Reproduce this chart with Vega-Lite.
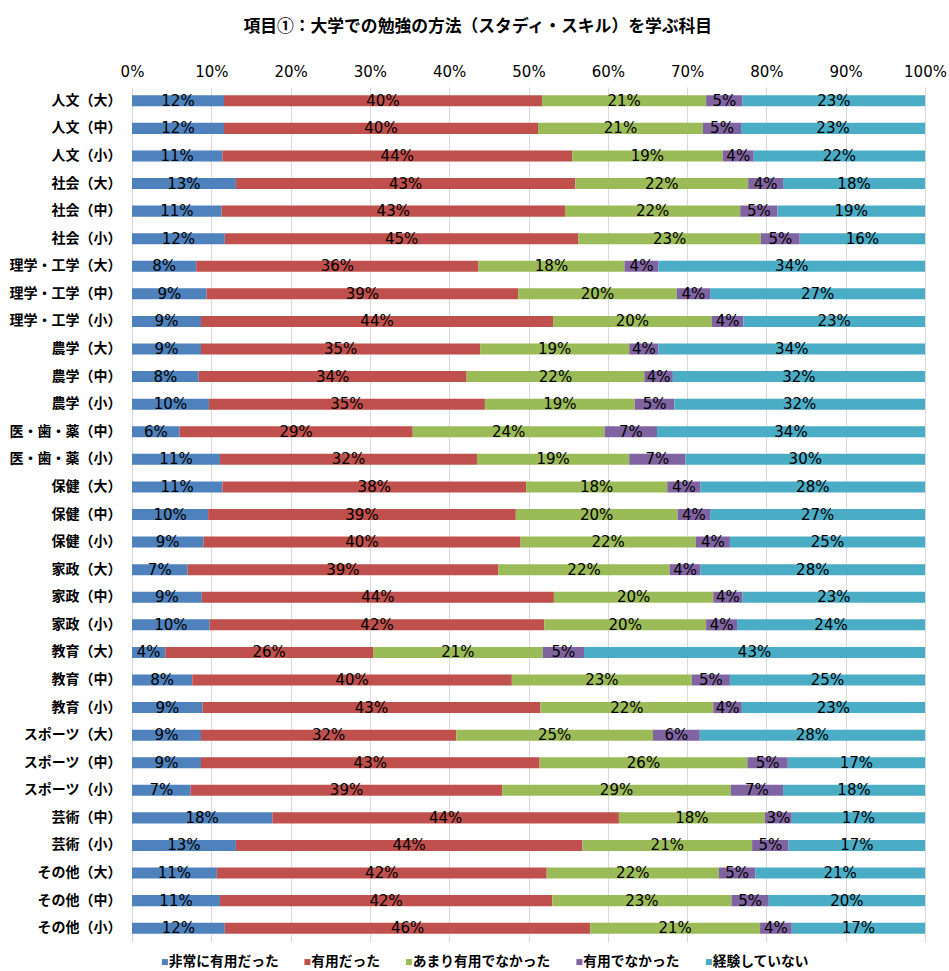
{
  "$schema": "https://vega.github.io/schema/vega-lite/v6.json",
  "autosize": {"type": "none"},
  "padding": {"left": 132, "top": 87, "right": 24, "bottom": 29},
  "width": 793,
  "height": 855,
  "background": "white",
  "title": {
    "text": "項目①：大学での勉強の方法（スタディ・スキル）を学ぶ科目",
    "font": "Noto Sans CJK JP",
    "fontSize": 16.8,
    "fontWeight": "bold",
    "color": "black",
    "anchor": "middle",
    "frame": "bounds",
    "offset": 28
  },
  "config": {"view": {"stroke": null}},
  "data": {
    "values": [
      {"c": "人文（大）", "s": "非常に有用だった", "k": 1, "v": 0.116},
      {"c": "人文（大）", "s": "有用だった", "k": 2, "v": 0.401},
      {"c": "人文（大）", "s": "あまり有用でなかった", "k": 3, "v": 0.207},
      {"c": "人文（大）", "s": "有用でなかった", "k": 4, "v": 0.046},
      {"c": "人文（大）", "s": "経験していない", "k": 5, "v": 0.230},
      {"c": "人文（中）", "s": "非常に有用だった", "k": 1, "v": 0.116},
      {"c": "人文（中）", "s": "有用だった", "k": 2, "v": 0.396},
      {"c": "人文（中）", "s": "あまり有用でなかった", "k": 3, "v": 0.208},
      {"c": "人文（中）", "s": "有用でなかった", "k": 4, "v": 0.048},
      {"c": "人文（中）", "s": "経験していない", "k": 5, "v": 0.232},
      {"c": "人文（小）", "s": "非常に有用だった", "k": 1, "v": 0.114},
      {"c": "人文（小）", "s": "有用だった", "k": 2, "v": 0.441},
      {"c": "人文（小）", "s": "あまり有用でなかった", "k": 3, "v": 0.190},
      {"c": "人文（小）", "s": "有用でなかった", "k": 4, "v": 0.039},
      {"c": "人文（小）", "s": "経験していない", "k": 5, "v": 0.216},
      {"c": "社会（大）", "s": "非常に有用だった", "k": 1, "v": 0.131},
      {"c": "社会（大）", "s": "有用だった", "k": 2, "v": 0.428},
      {"c": "社会（大）", "s": "あまり有用でなかった", "k": 3, "v": 0.218},
      {"c": "社会（大）", "s": "有用でなかった", "k": 4, "v": 0.044},
      {"c": "社会（大）", "s": "経験していない", "k": 5, "v": 0.179},
      {"c": "社会（中）", "s": "非常に有用だった", "k": 1, "v": 0.113},
      {"c": "社会（中）", "s": "有用だった", "k": 2, "v": 0.433},
      {"c": "社会（中）", "s": "あまり有用でなかった", "k": 3, "v": 0.221},
      {"c": "社会（中）", "s": "有用でなかった", "k": 4, "v": 0.047},
      {"c": "社会（中）", "s": "経験していない", "k": 5, "v": 0.186},
      {"c": "社会（小）", "s": "非常に有用だった", "k": 1, "v": 0.117},
      {"c": "社会（小）", "s": "有用だった", "k": 2, "v": 0.446},
      {"c": "社会（小）", "s": "あまり有用でなかった", "k": 3, "v": 0.230},
      {"c": "社会（小）", "s": "有用でなかった", "k": 4, "v": 0.049},
      {"c": "社会（小）", "s": "経験していない", "k": 5, "v": 0.158},
      {"c": "理学・工学（大）", "s": "非常に有用だった", "k": 1, "v": 0.081},
      {"c": "理学・工学（大）", "s": "有用だった", "k": 2, "v": 0.356},
      {"c": "理学・工学（大）", "s": "あまり有用でなかった", "k": 3, "v": 0.184},
      {"c": "理学・工学（大）", "s": "有用でなかった", "k": 4, "v": 0.043},
      {"c": "理学・工学（大）", "s": "経験していない", "k": 5, "v": 0.336},
      {"c": "理学・工学（中）", "s": "非常に有用だった", "k": 1, "v": 0.094},
      {"c": "理学・工学（中）", "s": "有用だった", "k": 2, "v": 0.393},
      {"c": "理学・工学（中）", "s": "あまり有用でなかった", "k": 3, "v": 0.200},
      {"c": "理学・工学（中）", "s": "有用でなかった", "k": 4, "v": 0.042},
      {"c": "理学・工学（中）", "s": "経験していない", "k": 5, "v": 0.271},
      {"c": "理学・工学（小）", "s": "非常に有用だった", "k": 1, "v": 0.087},
      {"c": "理学・工学（小）", "s": "有用だった", "k": 2, "v": 0.444},
      {"c": "理学・工学（小）", "s": "あまり有用でなかった", "k": 3, "v": 0.200},
      {"c": "理学・工学（小）", "s": "有用でなかった", "k": 4, "v": 0.040},
      {"c": "理学・工学（小）", "s": "経験していない", "k": 5, "v": 0.229},
      {"c": "農学（大）", "s": "非常に有用だった", "k": 1, "v": 0.087},
      {"c": "農学（大）", "s": "有用だった", "k": 2, "v": 0.352},
      {"c": "農学（大）", "s": "あまり有用でなかった", "k": 3, "v": 0.188},
      {"c": "農学（大）", "s": "有用でなかった", "k": 4, "v": 0.037},
      {"c": "農学（大）", "s": "経験していない", "k": 5, "v": 0.336},
      {"c": "農学（中）", "s": "非常に有用だった", "k": 1, "v": 0.084},
      {"c": "農学（中）", "s": "有用だった", "k": 2, "v": 0.338},
      {"c": "農学（中）", "s": "あまり有用でなかった", "k": 3, "v": 0.224},
      {"c": "農学（中）", "s": "有用でなかった", "k": 4, "v": 0.036},
      {"c": "農学（中）", "s": "経験していない", "k": 5, "v": 0.318},
      {"c": "農学（小）", "s": "非常に有用だった", "k": 1, "v": 0.097},
      {"c": "農学（小）", "s": "有用だった", "k": 2, "v": 0.348},
      {"c": "農学（小）", "s": "あまり有用でなかった", "k": 3, "v": 0.189},
      {"c": "農学（小）", "s": "有用でなかった", "k": 4, "v": 0.050},
      {"c": "農学（小）", "s": "経験していない", "k": 5, "v": 0.316},
      {"c": "医・歯・薬（中）", "s": "非常に有用だった", "k": 1, "v": 0.060},
      {"c": "医・歯・薬（中）", "s": "有用だった", "k": 2, "v": 0.294},
      {"c": "医・歯・薬（中）", "s": "あまり有用でなかった", "k": 3, "v": 0.242},
      {"c": "医・歯・薬（中）", "s": "有用でなかった", "k": 4, "v": 0.066},
      {"c": "医・歯・薬（中）", "s": "経験していない", "k": 5, "v": 0.338},
      {"c": "医・歯・薬（小）", "s": "非常に有用だった", "k": 1, "v": 0.111},
      {"c": "医・歯・薬（小）", "s": "有用だった", "k": 2, "v": 0.324},
      {"c": "医・歯・薬（小）", "s": "あまり有用でなかった", "k": 3, "v": 0.192},
      {"c": "医・歯・薬（小）", "s": "有用でなかった", "k": 4, "v": 0.071},
      {"c": "医・歯・薬（小）", "s": "経験していない", "k": 5, "v": 0.302},
      {"c": "保健（大）", "s": "非常に有用だった", "k": 1, "v": 0.114},
      {"c": "保健（大）", "s": "有用だった", "k": 2, "v": 0.383},
      {"c": "保健（大）", "s": "あまり有用でなかった", "k": 3, "v": 0.178},
      {"c": "保健（大）", "s": "有用でなかった", "k": 4, "v": 0.042},
      {"c": "保健（大）", "s": "経験していない", "k": 5, "v": 0.283},
      {"c": "保健（中）", "s": "非常に有用だった", "k": 1, "v": 0.096},
      {"c": "保健（中）", "s": "有用だった", "k": 2, "v": 0.388},
      {"c": "保健（中）", "s": "あまり有用でなかった", "k": 3, "v": 0.204},
      {"c": "保健（中）", "s": "有用でなかった", "k": 4, "v": 0.041},
      {"c": "保健（中）", "s": "経験していない", "k": 5, "v": 0.271},
      {"c": "保健（小）", "s": "非常に有用だった", "k": 1, "v": 0.090},
      {"c": "保健（小）", "s": "有用だった", "k": 2, "v": 0.400},
      {"c": "保健（小）", "s": "あまり有用でなかった", "k": 3, "v": 0.221},
      {"c": "保健（小）", "s": "有用でなかった", "k": 4, "v": 0.043},
      {"c": "保健（小）", "s": "経験していない", "k": 5, "v": 0.246},
      {"c": "家政（大）", "s": "非常に有用だった", "k": 1, "v": 0.070},
      {"c": "家政（大）", "s": "有用だった", "k": 2, "v": 0.392},
      {"c": "家政（大）", "s": "あまり有用でなかった", "k": 3, "v": 0.216},
      {"c": "家政（大）", "s": "有用でなかった", "k": 4, "v": 0.039},
      {"c": "家政（大）", "s": "経験していない", "k": 5, "v": 0.283},
      {"c": "家政（中）", "s": "非常に有用だった", "k": 1, "v": 0.088},
      {"c": "家政（中）", "s": "有用だった", "k": 2, "v": 0.444},
      {"c": "家政（中）", "s": "あまり有用でなかった", "k": 3, "v": 0.201},
      {"c": "家政（中）", "s": "有用でなかった", "k": 4, "v": 0.037},
      {"c": "家政（中）", "s": "経験していない", "k": 5, "v": 0.230},
      {"c": "家政（小）", "s": "非常に有用だった", "k": 1, "v": 0.098},
      {"c": "家政（小）", "s": "有用だった", "k": 2, "v": 0.422},
      {"c": "家政（小）", "s": "あまり有用でなかった", "k": 3, "v": 0.204},
      {"c": "家政（小）", "s": "有用でなかった", "k": 4, "v": 0.039},
      {"c": "家政（小）", "s": "経験していない", "k": 5, "v": 0.237},
      {"c": "教育（大）", "s": "非常に有用だった", "k": 1, "v": 0.042},
      {"c": "教育（大）", "s": "有用だった", "k": 2, "v": 0.262},
      {"c": "教育（大）", "s": "あまり有用でなかった", "k": 3, "v": 0.214},
      {"c": "教育（大）", "s": "有用でなかった", "k": 4, "v": 0.052},
      {"c": "教育（大）", "s": "経験していない", "k": 5, "v": 0.430},
      {"c": "教育（中）", "s": "非常に有用だった", "k": 1, "v": 0.076},
      {"c": "教育（中）", "s": "有用だった", "k": 2, "v": 0.403},
      {"c": "教育（中）", "s": "あまり有用でなかった", "k": 3, "v": 0.227},
      {"c": "教育（中）", "s": "有用でなかった", "k": 4, "v": 0.048},
      {"c": "教育（中）", "s": "経験していない", "k": 5, "v": 0.246},
      {"c": "教育（小）", "s": "非常に有用だった", "k": 1, "v": 0.089},
      {"c": "教育（小）", "s": "有用だった", "k": 2, "v": 0.426},
      {"c": "教育（小）", "s": "あまり有用でなかった", "k": 3, "v": 0.218},
      {"c": "教育（小）", "s": "有用でなかった", "k": 4, "v": 0.036},
      {"c": "教育（小）", "s": "経験していない", "k": 5, "v": 0.231},
      {"c": "スポーツ（大）", "s": "非常に有用だった", "k": 1, "v": 0.087},
      {"c": "スポーツ（大）", "s": "有用だった", "k": 2, "v": 0.322},
      {"c": "スポーツ（大）", "s": "あまり有用でなかった", "k": 3, "v": 0.248},
      {"c": "スポーツ（大）", "s": "有用でなかった", "k": 4, "v": 0.059},
      {"c": "スポーツ（大）", "s": "経験していない", "k": 5, "v": 0.284},
      {"c": "スポーツ（中）", "s": "非常に有用だった", "k": 1, "v": 0.087},
      {"c": "スポーツ（中）", "s": "有用だった", "k": 2, "v": 0.427},
      {"c": "スポーツ（中）", "s": "あまり有用でなかった", "k": 3, "v": 0.262},
      {"c": "スポーツ（中）", "s": "有用でなかった", "k": 4, "v": 0.051},
      {"c": "スポーツ（中）", "s": "経験していない", "k": 5, "v": 0.173},
      {"c": "スポーツ（小）", "s": "非常に有用だった", "k": 1, "v": 0.074},
      {"c": "スポーツ（小）", "s": "有用だった", "k": 2, "v": 0.393},
      {"c": "スポーツ（小）", "s": "あまり有用でなかった", "k": 3, "v": 0.288},
      {"c": "スポーツ（小）", "s": "有用でなかった", "k": 4, "v": 0.066},
      {"c": "スポーツ（小）", "s": "経験していない", "k": 5, "v": 0.179},
      {"c": "芸術（中）", "s": "非常に有用だった", "k": 1, "v": 0.177},
      {"c": "芸術（中）", "s": "有用だった", "k": 2, "v": 0.437},
      {"c": "芸術（中）", "s": "あまり有用でなかった", "k": 3, "v": 0.184},
      {"c": "芸術（中）", "s": "有用でなかった", "k": 4, "v": 0.034},
      {"c": "芸術（中）", "s": "経験していない", "k": 5, "v": 0.168},
      {"c": "芸術（小）", "s": "非常に有用だった", "k": 1, "v": 0.131},
      {"c": "芸術（小）", "s": "有用だった", "k": 2, "v": 0.437},
      {"c": "芸術（小）", "s": "あまり有用でなかった", "k": 3, "v": 0.214},
      {"c": "芸術（小）", "s": "有用でなかった", "k": 4, "v": 0.046},
      {"c": "芸術（小）", "s": "経験していない", "k": 5, "v": 0.172},
      {"c": "その他（大）", "s": "非常に有用だった", "k": 1, "v": 0.107},
      {"c": "その他（大）", "s": "有用だった", "k": 2, "v": 0.416},
      {"c": "その他（大）", "s": "あまり有用でなかった", "k": 3, "v": 0.217},
      {"c": "その他（大）", "s": "有用でなかった", "k": 4, "v": 0.046},
      {"c": "その他（大）", "s": "経験していない", "k": 5, "v": 0.214},
      {"c": "その他（中）", "s": "非常に有用だった", "k": 1, "v": 0.111},
      {"c": "その他（中）", "s": "有用だった", "k": 2, "v": 0.419},
      {"c": "その他（中）", "s": "あまり有用でなかった", "k": 3, "v": 0.226},
      {"c": "その他（中）", "s": "有用でなかった", "k": 4, "v": 0.047},
      {"c": "その他（中）", "s": "経験していない", "k": 5, "v": 0.197},
      {"c": "その他（小）", "s": "非常に有用だった", "k": 1, "v": 0.117},
      {"c": "その他（小）", "s": "有用だった", "k": 2, "v": 0.461},
      {"c": "その他（小）", "s": "あまり有用でなかった", "k": 3, "v": 0.214},
      {"c": "その他（小）", "s": "有用でなかった", "k": 4, "v": 0.040},
      {"c": "その他（小）", "s": "経験していない", "k": 5, "v": 0.168}
    ]
  },
  "encoding": {
    "y": {
      "field": "c",
      "type": "nominal",
      "sort": null,
      "title": null,
      "scale": {"paddingInner": 0.6, "paddingOuter": 0.3},
      "axis": {
        "labelFont": "Noto Sans CJK JP",
        "labelFontSize": 14,
        "labelFontWeight": "bold",
        "labelColor": "black",
        "ticks": false,
        "domain": false,
        "grid": false,
        "labelPadding": 11,
        "labelLimit": 300
      }
    },
    "order": {"field": "k", "type": "quantitative"}
  },
  "layer": [
    {
      "mark": {"type": "bar"},
      "encoding": {
        "x": {
          "field": "v",
          "type": "quantitative",
          "stack": "zero",
          "title": null,
          "scale": {"domain": [0, 1], "nice": false},
          "axis": {
            "orient": "top",
            "format": ".0%",
            "values": [0, 0.1, 0.2, 0.3, 0.4, 0.5, 0.6, 0.7, 0.8, 0.9, 1],
            "labelFont": "DejaVu Sans",
            "labelFontSize": 15,
            "labelColor": "black",
            "labelFlush": false,
            "labelOverlap": false,
            "ticks": false,
            "domain": false,
            "labelPadding": 8,
            "grid": true,
            "gridColor": "#D9D9D9",
            "gridWidth": 1
          }
        },
        "color": {
          "field": "s",
          "type": "nominal",
          "scale": {
            "domain": ["非常に有用だった", "有用だった", "あまり有用でなかった", "有用でなかった", "経験していない"],
            "range": ["#4F81BD", "#C0504D", "#9BBB59", "#8064A2", "#4BACC6"]
          },
          "legend": {
            "orient": "none",
            "legendX": 26,
            "legendY": 868,
            "direction": "horizontal",
            "columns": 5,
            "title": null,
            "padding": 0,
            "symbolType": "square",
            "symbolSize": 36,
            "symbolStrokeWidth": 0,
            "labelFont": "Noto Sans CJK JP",
            "labelFontSize": 13.75,
            "labelFontWeight": "bold",
            "labelColor": "black",
            "labelLimit": 400,
            "labelOffset": -3,
            "columnPadding": 21.5
          }
        }
      }
    },
    {
      "mark": {"type": "text", "font": "DejaVu Sans", "fontSize": 15, "color": "black", "baseline": "middle", "align": "center"},
      "encoding": {
        "x": {
          "field": "v",
          "type": "quantitative",
          "stack": "zero",
          "bandPosition": 0.5,
          "title": null,
          "scale": {"domain": [0, 1], "nice": false}
        },
        "detail": {"field": "s"},
        "text": {"field": "v", "type": "quantitative", "format": ".0%"}
      }
    }
  ]
}
